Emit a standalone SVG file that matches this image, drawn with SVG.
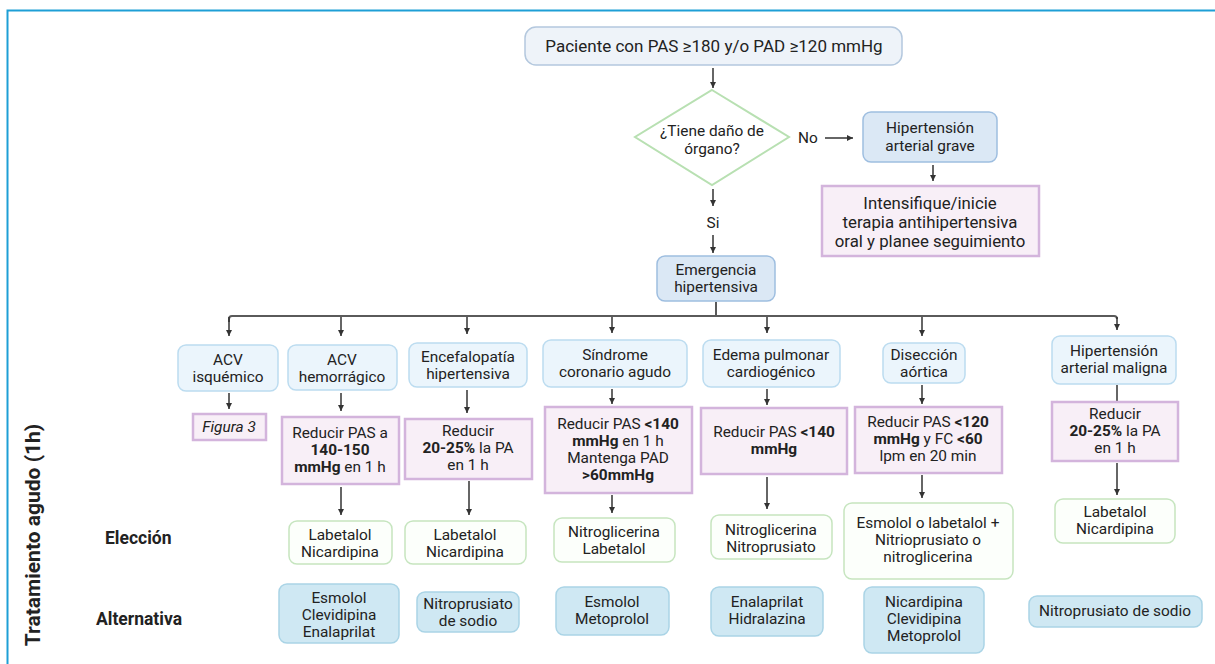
<svg xmlns="http://www.w3.org/2000/svg" width="1215" height="664" viewBox="0 0 1215 664">
<defs>
<style>
text{font-family:Roboto,"Liberation Sans",sans-serif;fill:#222;text-anchor:middle}
.t15{font-size:15.4px}
.t16{font-size:16.8px}
.t17{font-size:17px}
b,.b{font-weight:bold}
.lab{font-size:17.5px;font-weight:bold;text-anchor:start}
.top{fill:#eef3f9;stroke:#b4c8de;stroke-width:1.5}
.blu{fill:#dbe8f5;stroke:#9ebee0;stroke-width:1.5}
.lb{fill:#ebf5fc;stroke:#bcdcf0;stroke-width:1.5}
.pk{fill:#f8eff7;stroke:#d3b4dc;stroke-width:2.5}
.gr{fill:#fcfffb;stroke:#c6e5bf;stroke-width:1.5}
.alt{fill:#cfe8f3;stroke:#aad4e6;stroke-width:1.5}
.dia{fill:#fff;stroke:#b8e0b2;stroke-width:2}
.c{stroke:#333;stroke-width:1.5;fill:none}
.h{stroke:#5a5a5a;stroke-width:2;fill:none}
</style>
<marker id="ar" viewBox="0 0 6 6" refX="6" refY="3" markerWidth="6" markerHeight="6" markerUnits="userSpaceOnUse" orient="auto">
<path d="M0,0 L6,3 L0,6 z" fill="#333"/>
</marker>
</defs>
<rect width="1215" height="664" fill="#fff"/>
<path d="M7.5,664 V10.5 H1215" fill="none" stroke="#1e9fd6" stroke-width="2"/>

<g id="connectors">
<line class="c" x1="713" y1="68" x2="713" y2="88" marker-end="url(#ar)"/>
<line class="c" x1="825" y1="138" x2="853" y2="138" marker-end="url(#ar)"/>
<line class="c" x1="933" y1="165" x2="933" y2="181" marker-end="url(#ar)"/>
<line class="c" x1="713" y1="189" x2="713" y2="206" marker-end="url(#ar)"/>
<line class="c" x1="713" y1="235" x2="713" y2="253" marker-end="url(#ar)"/>
<path class="h" d="M716,302 V316 M229,322 V319 Q229,316 232,316 H1114 Q1117,316 1117,319"/>
<line class="c" x1="229" y1="317" x2="229" y2="336" marker-end="url(#ar)"/>
<line class="c" x1="341" y1="317" x2="341" y2="336" marker-end="url(#ar)"/>
<line class="c" x1="467" y1="317" x2="467" y2="334" marker-end="url(#ar)"/>
<line class="c" x1="612" y1="317" x2="612" y2="333" marker-end="url(#ar)"/>
<line class="c" x1="767" y1="317" x2="767" y2="333" marker-end="url(#ar)"/>
<line class="c" x1="922" y1="317" x2="922" y2="336" marker-end="url(#ar)"/>
<line class="c" x1="1117" y1="317" x2="1117" y2="330" marker-end="url(#ar)"/>
<line class="c" x1="229" y1="393" x2="229" y2="409" marker-end="url(#ar)"/>
<line class="c" x1="341" y1="393" x2="341" y2="411" marker-end="url(#ar)"/>
<line class="c" x1="467" y1="390" x2="467" y2="413" marker-end="url(#ar)"/>
<line class="c" x1="612" y1="389" x2="612" y2="404" marker-end="url(#ar)"/>
<line class="c" x1="767" y1="389" x2="767" y2="405" marker-end="url(#ar)"/>
<line class="c" x1="922" y1="385" x2="922" y2="404" marker-end="url(#ar)"/>
<line class="c" x1="1117" y1="385" x2="1117" y2="402"/>
<line class="c" x1="341" y1="487" x2="341" y2="515" marker-end="url(#ar)"/>
<line class="c" x1="469" y1="481" x2="469" y2="515" marker-end="url(#ar)"/>
<line class="c" x1="612" y1="495" x2="612" y2="513" marker-end="url(#ar)"/>
<line class="c" x1="767" y1="477" x2="767" y2="509" marker-end="url(#ar)"/>
<line class="c" x1="922" y1="475" x2="922" y2="498" marker-end="url(#ar)"/>
<line class="c" x1="1117" y1="463" x2="1117" y2="495" marker-end="url(#ar)"/>
</g>

<g id="n-paciente"><rect class="top" x="525" y="27" width="377" height="38" rx="11"/>
<text class="t17" x="714" y="52">Paciente con PAS ≥180 y/o PAD ≥120 mmHg</text></g>

<g id="n-decision"><polygon class="dia" points="712,90 789,137 712,185 635,137"/>
<text class="t15" x="712" y="136">¿Tiene daño de</text>
<text class="t15" x="712" y="154">órgano?</text></g>

<g id="l-no"><text class="t15" x="808" y="143">No</text></g>

<g id="n-grave"><rect class="blu" x="863" y="112" width="134" height="50" rx="8"/>
<text class="t15" x="930" y="133">Hipertensión</text>
<text class="t15" x="930" y="151">arterial grave</text></g>

<g id="n-intensifique"><rect class="pk" x="822" y="186" width="217" height="70"/>
<text class="t16" x="930" y="209">Intensifique/inicie</text>
<text class="t16" x="930" y="228">terapia antihipertensiva</text>
<text class="t16" x="930" y="247">oral y planee seguimiento</text></g>

<g id="l-si"><text class="t15" x="713" y="228">Si</text></g>

<g id="n-emergencia"><rect class="blu" x="657" y="256" width="118" height="45" rx="8"/>
<text class="t15" x="716" y="275">Emergencia</text>
<text class="t15" x="716" y="292">hipertensiva</text></g>

<g id="n-acvi"><rect class="lb" x="178" y="345" width="100" height="46" rx="8"/>
<text class="t15" x="228" y="365">ACV</text><text class="t15" x="228" y="382">isquémico</text></g>
<g id="n-acvh"><rect class="lb" x="288" y="345" width="109" height="45" rx="8"/>
<text class="t15" x="342" y="365">ACV</text><text class="t15" x="342" y="382">hemorrágico</text></g>
<g id="n-ence"><rect class="lb" x="409" y="343" width="118" height="44" rx="8"/>
<text class="t15" x="468" y="362">Encefalopatía</text><text class="t15" x="468" y="379">hipertensiva</text></g>
<g id="n-sca"><rect class="lb" x="543" y="340" width="144" height="47" rx="8"/>
<text class="t15" x="615" y="360">Síndrome</text><text class="t15" x="615" y="377">coronario agudo</text></g>
<g id="n-edema"><rect class="lb" x="703" y="340" width="137" height="47" rx="8"/>
<text class="t15" x="771" y="360">Edema pulmonar</text><text class="t15" x="771" y="377">cardiogénico</text></g>
<g id="n-dis"><rect class="lb" x="883" y="343" width="82" height="40" rx="8"/>
<text class="t15" x="924" y="360">Disección</text><text class="t15" x="924" y="377">aórtica</text></g>
<g id="n-mal"><rect class="lb" x="1052" y="336" width="124" height="48" rx="8"/>
<text class="t15" x="1114" y="356">Hipertensión</text><text class="t15" x="1114" y="373">arterial maligna</text></g>

<g id="n-fig3"><rect class="pk" x="193" y="414" width="73" height="26"/>
<text class="t15" x="229" y="432" font-style="italic">Figura 3</text></g>
<g id="n-r2"><rect class="pk" x="282" y="417" width="117" height="67"/>
<text class="t15" x="340" y="438">Reducir PAS a</text>
<text class="t15 b" x="340" y="455">140-150</text>
<text class="t15" x="340" y="472"><tspan class="b">mmHg</tspan> en 1 h</text></g>
<g id="n-r3"><rect class="pk" x="405" y="419" width="127" height="60"/>
<text class="t15" x="468" y="436">Reducir</text>
<text class="t15" x="468" y="453"><tspan class="b">20-25%</tspan> la PA</text>
<text class="t15" x="468" y="470">en 1 h</text></g>
<g id="n-r4"><rect class="pk" x="545" y="407" width="147" height="86"/>
<text class="t15" x="618" y="429">Reducir PAS <tspan class="b">&lt;140</tspan></text>
<text class="t15" x="618" y="446"><tspan class="b">mmHg</tspan> en 1 h</text>
<text class="t15" x="618" y="463">Mantenga PAD</text>
<text class="t15 b" x="618" y="480">&gt;60mmHg</text></g>
<g id="n-r5"><rect class="pk" x="701" y="408" width="146" height="66"/>
<text class="t15" x="774" y="437">Reducir PAS <tspan class="b">&lt;140</tspan></text>
<text class="t15 b" x="774" y="454">mmHg</text></g>
<g id="n-r6"><rect class="pk" x="855" y="407" width="147" height="66"/>
<text class="t15" x="928" y="427">Reducir PAS <tspan class="b">&lt;120</tspan></text>
<text class="t15" x="928" y="444"><tspan class="b">mmHg</tspan> y FC <tspan class="b">&lt;60</tspan></text>
<text class="t15" x="928" y="461">lpm en 20 min</text></g>
<g id="n-r7"><rect class="pk" x="1052" y="402" width="126" height="59"/>
<text class="t15" x="1115" y="419">Reducir</text>
<text class="t15" x="1115" y="436"><tspan class="b">20-25%</tspan> la PA</text>
<text class="t15" x="1115" y="453">en 1 h</text></g>

<g id="l-eleccion"><text class="lab" x="105" y="544">Elección</text></g>
<g id="n-e2"><rect class="gr" x="289" y="521" width="103" height="43" rx="8"/>
<text class="t15" x="340" y="540">Labetalol</text><text class="t15" x="340" y="557">Nicardipina</text></g>
<g id="n-e3"><rect class="gr" x="405" y="521" width="121" height="43" rx="8"/>
<text class="t15" x="465" y="540">Labetalol</text><text class="t15" x="465" y="557">Nicardipina</text></g>
<g id="n-e4"><rect class="gr" x="554" y="518" width="121" height="44" rx="8"/>
<text class="t15" x="614" y="537">Nitroglicerina</text><text class="t15" x="614" y="554">Labetalol</text></g>
<g id="n-e5"><rect class="gr" x="711" y="515" width="121" height="44" rx="8"/>
<text class="t15" x="771" y="535">Nitroglicerina</text><text class="t15" x="771" y="552">Nitroprusiato</text></g>
<g id="n-e6"><rect class="gr" x="844" y="503" width="169" height="76" rx="8"/>
<text class="t15" x="928" y="528">Esmolol o labetalol +</text><text class="t15" x="928" y="545">Nitrioprusiato o</text><text class="t15" x="928" y="562">nitroglicerina</text></g>
<g id="n-e7"><rect class="gr" x="1055" y="499" width="120" height="44" rx="8"/>
<text class="t15" x="1115" y="517">Labetalol</text><text class="t15" x="1115" y="534">Nicardipina</text></g>

<g id="l-alternativa"><text class="lab" x="96" y="625">Alternativa</text></g>
<g id="n-a2"><rect class="alt" x="279" y="584" width="120" height="59" rx="8"/>
<text class="t15" x="339" y="603">Esmolol</text><text class="t15" x="339" y="620">Clevidipina</text><text class="t15" x="339" y="637">Enalaprilat</text></g>
<g id="n-a3"><rect class="alt" x="417" y="592" width="102" height="40" rx="8"/>
<text class="t15" x="468" y="609">Nitroprusiato</text><text class="t15" x="468" y="626">de sodio</text></g>
<g id="n-a4"><rect class="alt" x="556" y="587" width="113" height="48" rx="8"/>
<text class="t15" x="612" y="607">Esmolol</text><text class="t15" x="612" y="624">Metoprolol</text></g>
<g id="n-a5"><rect class="alt" x="711" y="587" width="112" height="49" rx="8"/>
<text class="t15" x="767" y="607">Enalaprilat</text><text class="t15" x="767" y="624">Hidralazina</text></g>
<g id="n-a6"><rect class="alt" x="864" y="587" width="120" height="66" rx="8"/>
<text class="t15" x="924" y="607">Nicardipina</text><text class="t15" x="924" y="624">Clevidipina</text><text class="t15" x="924" y="641">Metoprolol</text></g>
<g id="n-a7"><rect class="alt" x="1029" y="596" width="173" height="31" rx="8"/>
<text class="t15" x="1115" y="616">Nitroprusiato de sodio</text></g>

<g id="l-tratamiento"><text x="0" y="0" font-size="21" font-weight="bold" transform="translate(40,535) rotate(-90)">Tratamiento agudo (1h)</text></g>
</svg>
